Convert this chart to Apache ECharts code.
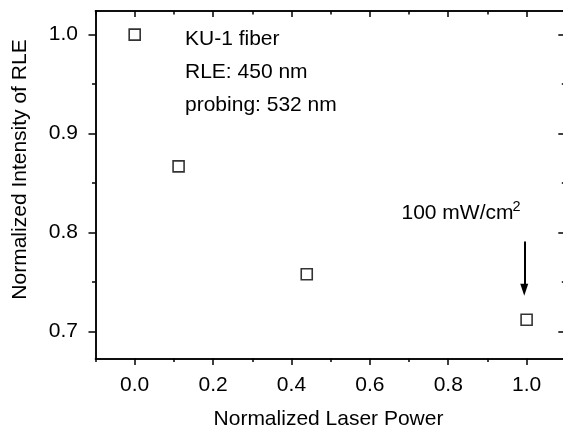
<!DOCTYPE html>
<html>
<head>
<meta charset="utf-8">
<script src="https://cdn.jsdelivr.net/npm/echarts@6/dist/echarts.min.js"></script>
<style>html,body{margin:0;padding:0;background:#fff;}#c{width:563px;height:432px;}</style>
</head>
<body>
<div id="c"></div>
<script>
const xValues = [0.0, 0.112, 0.439, 1.0];
const yValues = [1.0, 0.867, 0.758, 0.712];
const xMajorTicks = [0.0, 0.2, 0.4, 0.6, 0.8, 1.0];
const xMinorTicks = [-0.1, 0.1, 0.3, 0.5, 0.7, 0.9, 1.1];
const yMajorTicks = [0.7, 0.8, 0.9, 1.0];
const yMinorTicks = [0.75, 0.85, 0.95];
const xRange = [-0.1, 1.1];
const yRange = [0.6729, 1.0239];
const arrowX = 0.994;
const arrowY = [0.791, 0.7424];
const xTitle = 'Normalized Laser Power';
const yTitle = 'Normalized Intensity of RLE';
const notes = ['KU-1 fiber', 'RLE: 450 nm', 'probing: 532 nm'];
const powerNote = '100 mW/cm';
const powerSup = '2';

const FONT = 'Liberation Sans, Arial, Helvetica, sans-serif';
const FS = 21;
const black = '#000';

function axisBase(extra) {
  return Object.assign({
    type: 'value',
    splitLine: { show: false },
    axisLine: { show: true, onZero: false, lineStyle: { color: black, width: 1.5 } },
    axisLabel: { show: false },
  }, extra);
}

const chart = echarts.init(document.getElementById('c'), null, { renderer: 'canvas' });
const fmt = v => Number(v).toFixed(1);

const option = {
  backgroundColor: '#fff',
  animation: false,
  grid: { left: 95.5, width: 470.3, top: 11, bottom: 73.5, containLabel: false, outerBoundsMode: 'none' },
  xAxis: [
    axisBase({ position: 'bottom', min: xRange[0], max: xRange[1],
      axisTick: { show: true, inside: false, length: 6.5, customValues: xMajorTicks, lineStyle: { color: black, width: 1.5 } },
      axisLabel: { show: true, customValues: xMajorTicks, formatter: fmt, margin: 16, color: black, fontSize: FS, fontFamily: FONT } }),
    axisBase({ position: 'bottom', min: xRange[0], max: xRange[1],
      axisTick: { show: true, inside: false, length: 3.5, customValues: xMinorTicks, lineStyle: { color: black, width: 1.5 } } }),
    axisBase({ position: 'top', min: xRange[0], max: xRange[1],
      axisTick: { show: true, inside: true, length: 6, customValues: xMajorTicks, lineStyle: { color: black, width: 1.5 } } }),
    axisBase({ position: 'top', min: xRange[0], max: xRange[1],
      axisTick: { show: true, inside: true, length: 3.5, customValues: xMinorTicks, lineStyle: { color: black, width: 1.5 } } })
  ],
  yAxis: [
    axisBase({ position: 'left', min: yRange[0], max: yRange[1],
      axisTick: { show: true, inside: false, length: 7, customValues: yMajorTicks, lineStyle: { color: black, width: 1.5 } },
      axisLabel: { show: true, customValues: yMajorTicks, formatter: fmt, margin: 17.5, color: black, fontSize: FS, fontFamily: FONT } }),
    axisBase({ position: 'left', min: yRange[0], max: yRange[1],
      axisTick: { show: true, inside: false, length: 3.5, customValues: yMinorTicks, lineStyle: { color: black, width: 1.5 } } }),
    axisBase({ position: 'right', min: yRange[0], max: yRange[1],
      axisTick: { show: true, inside: true, length: 7.5, customValues: yMajorTicks, lineStyle: { color: black, width: 1.5 } } }),
    axisBase({ position: 'right', min: yRange[0], max: yRange[1],
      axisTick: { show: true, inside: true, length: 4, customValues: yMinorTicks, lineStyle: { color: black, width: 1.5 } } })
  ],
  series: [{
    type: 'scatter',
    xAxisIndex: 0, yAxisIndex: 0,
    data: xValues.map((x, i) => [x, yValues[i]]),
    symbol: 'rect',
    symbolSize: 11,
    itemStyle: { color: 'rgba(255,255,255,0)', borderColor: black, borderWidth: 1.6 },
    markLine: {
      silent: true,
      symbol: ['none', 'triangle'],
      symbolSize: [8, 12],
      label: { show: false },
      lineStyle: { color: black, width: 2, type: 'solid' },
      data: [[{ coord: [arrowX, arrowY[0]] }, { coord: [arrowX, arrowY[1]] }]]
    }
  }],
  graphic: [
    { type: 'text', x: 185, y: 38.8, style: { text: notes[0], font: FS + 'px ' + FONT, fill: black, verticalAlign: 'middle', align: 'left' } },
    { type: 'text', x: 185, y: 72.5, style: { text: notes[1], font: FS + 'px ' + FONT, fill: black, verticalAlign: 'middle', align: 'left' } },
    { type: 'text', x: 185, y: 105.5, style: { text: notes[2], font: FS + 'px ' + FONT, fill: black, verticalAlign: 'middle', align: 'left' } },
    { type: 'text', x: 401.5, y: 213.3, style: { text: powerNote, font: FS + 'px ' + FONT, fill: black, verticalAlign: 'middle', align: 'left' } },
    { type: 'text', x: 512.5, y: 207, style: { text: powerSup, font: '14.5px ' + FONT, fill: black, verticalAlign: 'middle', align: 'left' } },
    { type: 'text', x: 328.5, y: 419, style: { text: xTitle, font: FS + 'px ' + FONT, fill: black, verticalAlign: 'middle', align: 'center' } },
    { type: 'text', x: 20, y: 169.5, rotation: Math.PI / 2, style: { text: yTitle, font: FS + 'px ' + FONT, fill: black, verticalAlign: 'middle', align: 'center' } }
  ]
};
chart.setOption(option);
</script>
</body>
</html>
